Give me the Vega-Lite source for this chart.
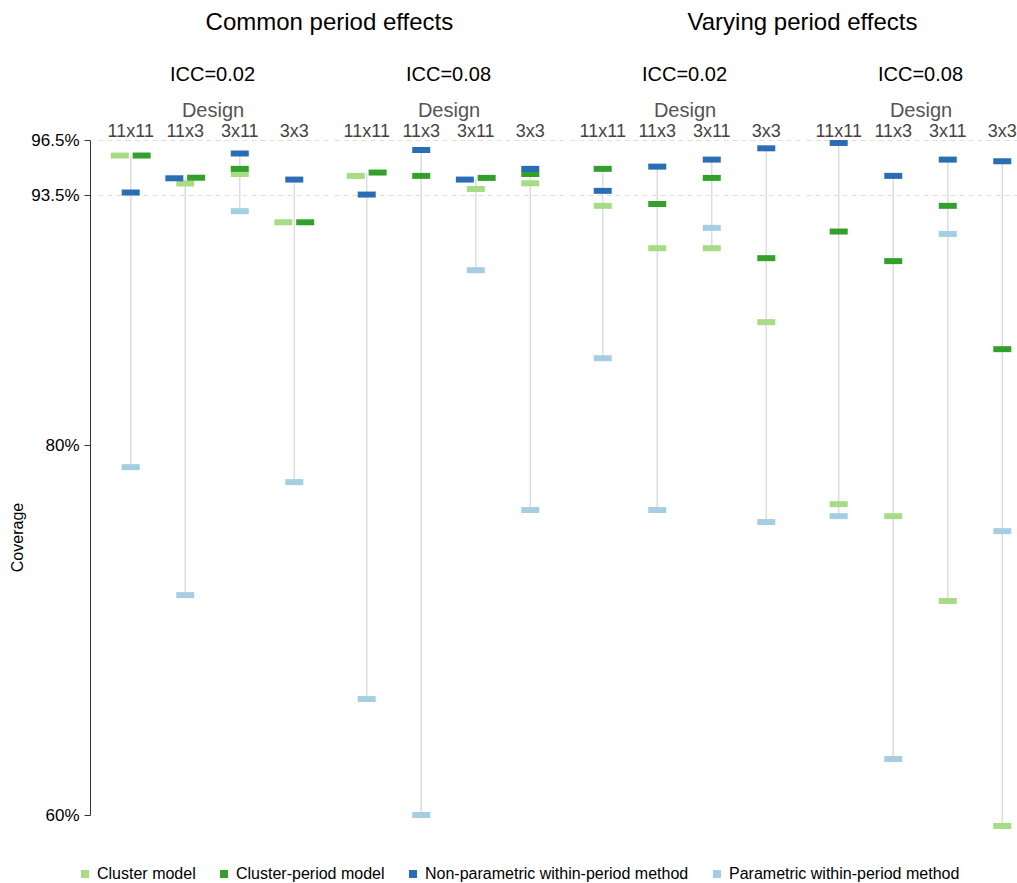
{
  "$schema": "https://vega.github.io/schema/vega-lite/v6.json",
  "padding": {"left": 9, "top": 11, "right": 5, "bottom": 5},
  "background": "white",
  "config": {
    "font": "Liberation Sans",
    "view": {"stroke": null},
    "concat": {"spacing": 7}
  },
  "data": {"values": [
    {"effect": "Common", "icc": "ICC=0.02", "design": "11x11", "method": "Cluster model", "cov": 95.66},
    {"effect": "Common", "icc": "ICC=0.02", "design": "11x11", "method": "Cluster-period model", "cov": 95.66},
    {"effect": "Common", "icc": "ICC=0.02", "design": "11x11", "method": "Non-parametric within-period method", "cov": 93.66},
    {"effect": "Common", "icc": "ICC=0.02", "design": "11x11", "method": "Parametric within-period method", "cov": 78.81},
    {"effect": "Common", "icc": "ICC=0.02", "design": "11x3", "method": "Cluster model", "cov": 94.15},
    {"effect": "Common", "icc": "ICC=0.02", "design": "11x3", "method": "Cluster-period model", "cov": 94.46},
    {"effect": "Common", "icc": "ICC=0.02", "design": "11x3", "method": "Non-parametric within-period method", "cov": 94.43},
    {"effect": "Common", "icc": "ICC=0.02", "design": "11x3", "method": "Parametric within-period method", "cov": 71.89},
    {"effect": "Common", "icc": "ICC=0.02", "design": "3x11", "method": "Cluster model", "cov": 94.66},
    {"effect": "Common", "icc": "ICC=0.02", "design": "3x11", "method": "Cluster-period model", "cov": 94.94},
    {"effect": "Common", "icc": "ICC=0.02", "design": "3x11", "method": "Non-parametric within-period method", "cov": 95.77},
    {"effect": "Common", "icc": "ICC=0.02", "design": "3x11", "method": "Parametric within-period method", "cov": 92.65},
    {"effect": "Common", "icc": "ICC=0.02", "design": "3x3", "method": "Cluster model", "cov": 92.05},
    {"effect": "Common", "icc": "ICC=0.02", "design": "3x3", "method": "Cluster-period model", "cov": 92.05},
    {"effect": "Common", "icc": "ICC=0.02", "design": "3x3", "method": "Non-parametric within-period method", "cov": 94.36},
    {"effect": "Common", "icc": "ICC=0.02", "design": "3x3", "method": "Parametric within-period method", "cov": 78.0},
    {"effect": "Common", "icc": "ICC=0.08", "design": "11x11", "method": "Cluster model", "cov": 94.56},
    {"effect": "Common", "icc": "ICC=0.08", "design": "11x11", "method": "Cluster-period model", "cov": 94.74},
    {"effect": "Common", "icc": "ICC=0.08", "design": "11x11", "method": "Non-parametric within-period method", "cov": 93.55},
    {"effect": "Common", "icc": "ICC=0.08", "design": "11x11", "method": "Parametric within-period method", "cov": 66.27},
    {"effect": "Common", "icc": "ICC=0.08", "design": "11x3", "method": "Cluster-period model", "cov": 94.56},
    {"effect": "Common", "icc": "ICC=0.08", "design": "11x3", "method": "Non-parametric within-period method", "cov": 95.96},
    {"effect": "Common", "icc": "ICC=0.08", "design": "11x3", "method": "Parametric within-period method", "cov": 60.0},
    {"effect": "Common", "icc": "ICC=0.08", "design": "3x11", "method": "Cluster model", "cov": 93.85},
    {"effect": "Common", "icc": "ICC=0.08", "design": "3x11", "method": "Cluster-period model", "cov": 94.45},
    {"effect": "Common", "icc": "ICC=0.08", "design": "3x11", "method": "Non-parametric within-period method", "cov": 94.36},
    {"effect": "Common", "icc": "ICC=0.08", "design": "3x11", "method": "Parametric within-period method", "cov": 89.46},
    {"effect": "Common", "icc": "ICC=0.08", "design": "3x3", "method": "Cluster model", "cov": 94.16},
    {"effect": "Common", "icc": "ICC=0.08", "design": "3x3", "method": "Cluster-period model", "cov": 94.66},
    {"effect": "Common", "icc": "ICC=0.08", "design": "3x3", "method": "Non-parametric within-period method", "cov": 94.94},
    {"effect": "Common", "icc": "ICC=0.08", "design": "3x3", "method": "Parametric within-period method", "cov": 76.49},
    {"effect": "Varying", "icc": "ICC=0.02", "design": "11x11", "method": "Cluster model", "cov": 92.94},
    {"effect": "Varying", "icc": "ICC=0.02", "design": "11x11", "method": "Cluster-period model", "cov": 94.94},
    {"effect": "Varying", "icc": "ICC=0.02", "design": "11x11", "method": "Non-parametric within-period method", "cov": 93.75},
    {"effect": "Varying", "icc": "ICC=0.02", "design": "11x11", "method": "Parametric within-period method", "cov": 84.70},
    {"effect": "Varying", "icc": "ICC=0.02", "design": "11x3", "method": "Cluster model", "cov": 90.65},
    {"effect": "Varying", "icc": "ICC=0.02", "design": "11x3", "method": "Cluster-period model", "cov": 93.04},
    {"effect": "Varying", "icc": "ICC=0.02", "design": "11x3", "method": "Non-parametric within-period method", "cov": 95.06},
    {"effect": "Varying", "icc": "ICC=0.02", "design": "11x3", "method": "Parametric within-period method", "cov": 76.49},
    {"effect": "Varying", "icc": "ICC=0.02", "design": "3x11", "method": "Cluster model", "cov": 90.65},
    {"effect": "Varying", "icc": "ICC=0.02", "design": "3x11", "method": "Cluster-period model", "cov": 94.45},
    {"effect": "Varying", "icc": "ICC=0.02", "design": "3x11", "method": "Non-parametric within-period method", "cov": 95.44},
    {"effect": "Varying", "icc": "ICC=0.02", "design": "3x11", "method": "Parametric within-period method", "cov": 91.75},
    {"effect": "Varying", "icc": "ICC=0.02", "design": "3x3", "method": "Cluster model", "cov": 86.65},
    {"effect": "Varying", "icc": "ICC=0.02", "design": "3x3", "method": "Cluster-period model", "cov": 90.11},
    {"effect": "Varying", "icc": "ICC=0.02", "design": "3x3", "method": "Non-parametric within-period method", "cov": 96.05},
    {"effect": "Varying", "icc": "ICC=0.02", "design": "3x3", "method": "Parametric within-period method", "cov": 75.84},
    {"effect": "Varying", "icc": "ICC=0.08", "design": "11x11", "method": "Cluster model", "cov": 76.81},
    {"effect": "Varying", "icc": "ICC=0.08", "design": "11x11", "method": "Cluster-period model", "cov": 91.55},
    {"effect": "Varying", "icc": "ICC=0.08", "design": "11x11", "method": "Non-parametric within-period method", "cov": 96.34},
    {"effect": "Varying", "icc": "ICC=0.08", "design": "11x11", "method": "Parametric within-period method", "cov": 76.16},
    {"effect": "Varying", "icc": "ICC=0.08", "design": "11x3", "method": "Cluster model", "cov": 76.16},
    {"effect": "Varying", "icc": "ICC=0.08", "design": "11x3", "method": "Cluster-period model", "cov": 89.95},
    {"effect": "Varying", "icc": "ICC=0.08", "design": "11x3", "method": "Non-parametric within-period method", "cov": 94.56},
    {"effect": "Varying", "icc": "ICC=0.08", "design": "11x3", "method": "Parametric within-period method", "cov": 63.03},
    {"effect": "Varying", "icc": "ICC=0.08", "design": "3x11", "method": "Cluster model", "cov": 71.57},
    {"effect": "Varying", "icc": "ICC=0.08", "design": "3x11", "method": "Cluster-period model", "cov": 92.94},
    {"effect": "Varying", "icc": "ICC=0.08", "design": "3x11", "method": "Non-parametric within-period method", "cov": 95.44},
    {"effect": "Varying", "icc": "ICC=0.08", "design": "3x11", "method": "Parametric within-period method", "cov": 91.42},
    {"effect": "Varying", "icc": "ICC=0.08", "design": "3x3", "method": "Cluster model", "cov": 59.41},
    {"effect": "Varying", "icc": "ICC=0.08", "design": "3x3", "method": "Cluster-period model", "cov": 85.19},
    {"effect": "Varying", "icc": "ICC=0.08", "design": "3x3", "method": "Non-parametric within-period method", "cov": 95.35},
    {"effect": "Varying", "icc": "ICC=0.08", "design": "3x3", "method": "Parametric within-period method", "cov": 75.35}
  ]},
  "transform": [
    {
      "window": [
        {"op": "lag", "field": "cov", "as": "prev"},
        {"op": "lead", "field": "cov", "as": "next"}
      ],
      "groupby": ["effect", "icc", "design"],
      "sort": [{"field": "cov", "order": "ascending"}, {"field": "method", "order": "ascending"}]
    },
    {"calculate": "datum.next != null && datum.next - datum.cov < 0.22 ? 'left' : (datum.prev != null && datum.cov - datum.prev < 0.22 ? 'right' : 'mid')", "as": "side"}
  ],
  "resolve": {"scale": {"y": "shared", "color": "shared"}},
  "hconcat": [
    {
      "title": {"text": "Common period effects", "fontSize": 24, "fontWeight": "normal", "anchor": "middle", "offset": 30, "dx": 43},
      "transform": [{"filter": "datum.effect == 'Common'"}],
      "facet": {
        "column": {"field": "icc", "type": "nominal", "header": {"title": null, "labelFontSize": 20, "labelPadding": 15, "labelColor": "black"}}
      },
      "spacing": 7,
      "bounds": "flush",
      "spec": {
        "width": 229,
        "height": 675,
        "layer": [
          {
            "mark": {"type": "rule", "color": "#dddddd", "strokeWidth": 1.5, "clip": false},
            "encoding": {
              "x": {"field": "design", "type": "nominal", "sort": ["11x11", "11x3", "3x11", "3x3"]},
              "y": {"aggregate": "min", "field": "cov", "type": "quantitative"},
              "y2": {"aggregate": "max", "field": "cov"}
            }
          },
          {
            "mark": {"type": "tick", "size": 18, "thickness": 6, "opacity": 1, "clip": false},
            "encoding": {
              "x": {
                "field": "design", "type": "nominal", "sort": ["11x11", "11x3", "3x11", "3x3"],
                "scale": {"paddingInner": 0, "paddingOuter": 0.1},
                "axis": {"orient": "top", "title": "Design", "titleFontSize": 20, "titleFontWeight": "normal", "titleColor": "#555555", "titlePadding": 2, "labelFontSize": 18, "labelColor": "#444444", "labelAngle": 0, "labelAlign": "center", "labelPadding": 9, "ticks": false, "domain": false, "grid": false}
              },
              "xOffset": {"field": "side", "type": "nominal", "scale": {"domain": ["left", "mid", "right"], "paddingInner": 0, "paddingOuter": 1.5278}},
              "y": {
                "field": "cov", "type": "quantitative",
                "scale": {"domain": [60, 96.5], "nice": false, "zero": false},
                "axis": {"title": "Coverage", "titleFontSize": 16, "titleFontWeight": "normal", "titleColor": "black", "titlePadding": 5, "titleY": 397, "values": [60, 80, 93.5, 96.5], "labelExpr": "datum.value + '%'", "labelFontSize": 17, "labelColor": "black", "labelPadding": 5, "tickSize": 6, "tickColor": "#333333", "domainColor": "#333333", "offset": 8, "grid": true, "gridColor": "#dddddd", "gridDash": [5, 4], "gridOpacity": {"expr": "datum.value > 90 ? 1 : 0"}}
              },
              "color": {
                "field": "method", "type": "nominal",
                "scale": {"domain": ["Cluster model", "Cluster-period model", "Non-parametric within-period method", "Parametric within-period method"], "range": ["#a6dc84", "#33a02c", "#2a6db4", "#a6cee3"]},
                "legend": {"orient": "none", "legendX": -21, "legendY": 726, "direction": "horizontal", "title": null, "symbolType": "square", "symbolSize": 64, "symbolStrokeWidth": 0, "labelFontSize": 16, "labelLimit": 0, "columnPadding": 20}
              }
            }
          }
        ]
      }
    },
    {
      "title": {"text": "Varying period effects", "fontSize": 24, "fontWeight": "normal", "anchor": "middle", "offset": 30},
      "transform": [{"filter": "datum.effect == 'Varying'"}],
      "facet": {
        "column": {"field": "icc", "type": "nominal", "header": {"title": null, "labelFontSize": 20, "labelPadding": 15, "labelColor": "black"}}
      },
      "spacing": 7,
      "bounds": "flush",
      "spec": {
        "width": 229,
        "height": 675,
        "layer": [
          {
            "mark": {"type": "rule", "color": "#dddddd", "strokeWidth": 1.5, "clip": false},
            "encoding": {
              "x": {"field": "design", "type": "nominal", "sort": ["11x11", "11x3", "3x11", "3x3"]},
              "y": {"aggregate": "min", "field": "cov", "type": "quantitative"},
              "y2": {"aggregate": "max", "field": "cov"}
            }
          },
          {
            "mark": {"type": "tick", "size": 18, "thickness": 6, "opacity": 1, "clip": false},
            "encoding": {
              "x": {
                "field": "design", "type": "nominal", "sort": ["11x11", "11x3", "3x11", "3x3"],
                "scale": {"paddingInner": 0, "paddingOuter": 0.1},
                "axis": {"orient": "top", "title": "Design", "titleFontSize": 20, "titleFontWeight": "normal", "titleColor": "#555555", "titlePadding": 2, "labelFontSize": 18, "labelColor": "#444444", "labelAngle": 0, "labelAlign": "center", "labelPadding": 9, "ticks": false, "domain": false, "grid": false}
              },
              "xOffset": {"field": "side", "type": "nominal", "scale": {"domain": ["left", "mid", "right"], "paddingInner": 0, "paddingOuter": 1.5278}},
              "y": {
                "field": "cov", "type": "quantitative",
                "scale": {"domain": [60, 96.5], "nice": false, "zero": false},
                "axis": {"title": null, "values": [60, 80, 93.5, 96.5], "labels": false, "ticks": false, "domain": false, "minExtent": 0, "maxExtent": 0, "grid": true, "gridColor": "#dddddd", "gridDash": [5, 4], "gridOpacity": {"expr": "datum.value > 90 ? 1 : 0"}}
              },
              "color": {
                "field": "method", "type": "nominal",
                "scale": {"domain": ["Cluster model", "Cluster-period model", "Non-parametric within-period method", "Parametric within-period method"], "range": ["#a6dc84", "#33a02c", "#2a6db4", "#a6cee3"]},
                "legend": {"orient": "none", "legendX": -21, "legendY": 726, "direction": "horizontal", "title": null, "symbolType": "square", "symbolSize": 64, "symbolStrokeWidth": 0, "labelFontSize": 16, "labelLimit": 0, "columnPadding": 20}
              }
            }
          }
        ]
      }
    }
  ]
}
